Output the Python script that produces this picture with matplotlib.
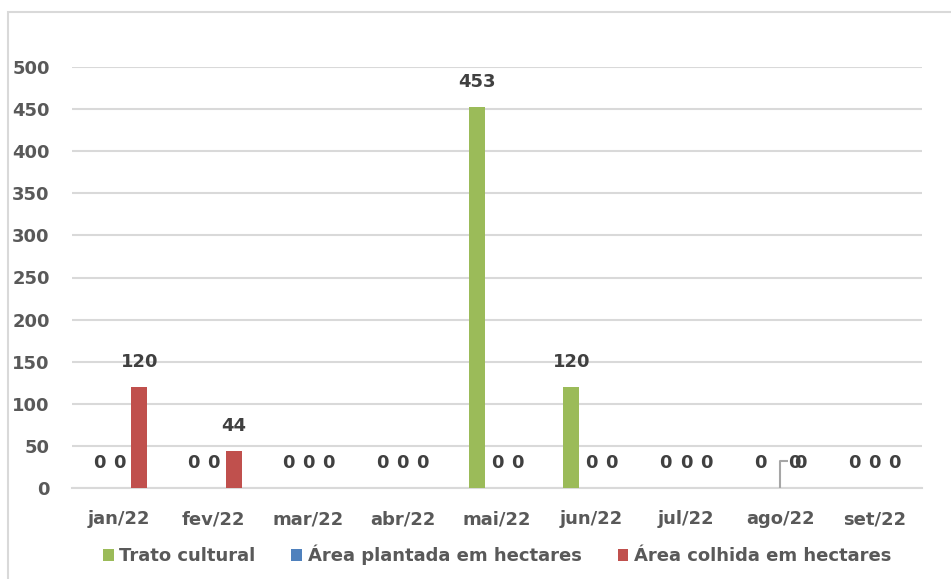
import matplotlib
matplotlib.use("Agg")
import matplotlib.pyplot as plt
from matplotlib.patches import Rectangle
import numpy as np

categories = ["jan/22", "fev/22", "mar/22", "abr/22", "mai/22", "jun/22", "jul/22", "ago/22", "set/22"]
series_names = ["Trato cultural", "Área plantada em hectares", "Área colhida em hectares"]
trato = [0, 0, 0, 0, 453, 120, 0, 0, 0]
plantada = [0, 0, 0, 0, 0, 0, 0, 0, 0]
colhida = [120, 44, 0, 0, 0, 0, 0, 0, 0]
colors = ["#9BBB59", "#4F81BD", "#C0504D"]
yticks = [0, 50, 100, 150, 200, 250, 300, 350, 400, 450, 500]

plt.rcParams['font.family'] = ['DejaVu Sans']

fig = plt.figure(figsize=(9.51, 5.79), dpi=100)
fig.patches.append(Rectangle((8/951, -0.01), 1.0, 1 - 12/579 + 0.01, transform=fig.transFigure,
                             fill=False, edgecolor="#D9D9D9", linewidth=1.5))
ax = fig.add_axes([72/951, 91/579, 850/951, (488-67)/579])

x = np.arange(len(categories))
w = 0.17
step = 0.212
label_color = "#404040"
fs = 13
all_series = [trato, plantada, colhida]
for i, (vals, name, c) in enumerate(zip(all_series, series_names, colors)):
    pos = x + (i - 1) * step
    ax.bar(pos, vals, width=w, color=c, label=name, zorder=3)
    for j, (p, v) in enumerate(zip(pos, vals)):
        if categories[j] == "ago/22" and i == 1:
            # displaced label with leader line (as in the reference)
            ax.plot([p, p, p + 0.085], [v, v + 32, v + 32], color="#A6A6A6", lw=1.5,
                    zorder=4, solid_capstyle="butt")
            ax.annotate(str(v), xy=(p + 0.15, v + 30), ha="center", va="center",
                        fontsize=fs, fontweight="bold", color=label_color)
            continue
        ax.annotate(str(v), xy=(p, v), xytext=(0, 18), textcoords="offset points",
                    ha="center", va="center", fontsize=fs, fontweight="bold", color=label_color,
                    annotation_clip=False)

ax.set_xlim(-0.5, len(categories) - 0.5)
ax.set_ylim(0, 500)
ax.set_yticks(yticks)
ax.set_xticks(x)
ax.set_xticklabels(categories)
ax.yaxis.grid(True, color="#D9D9D9", linewidth=1.5, zorder=0)
ax.set_axisbelow(True)
for s in ["top", "right", "left"]:
    ax.spines[s].set_visible(False)
ax.spines["bottom"].set_color("#D9D9D9")
ax.spines["bottom"].set_linewidth(1.5)
ax.tick_params(axis="both", length=0, labelsize=fs, colors="#595959")
ax.tick_params(axis="y", pad=16)
ax.tick_params(axis="x", pad=16)
for t in ax.get_xticklabels() + ax.get_yticklabels():
    t.set_fontweight("bold")

leg = fig.legend(loc="center", bbox_to_anchor=(497/951, 1 - 555/579), ncol=3, frameon=False,
                 fontsize=fs, handlelength=0.6, handleheight=0.6, handletextpad=0.3,
                 columnspacing=2.0)
for t in leg.get_texts():
    t.set_color("#595959")
    t.set_fontweight("bold")

fig.savefig("out.png", dpi=100)
